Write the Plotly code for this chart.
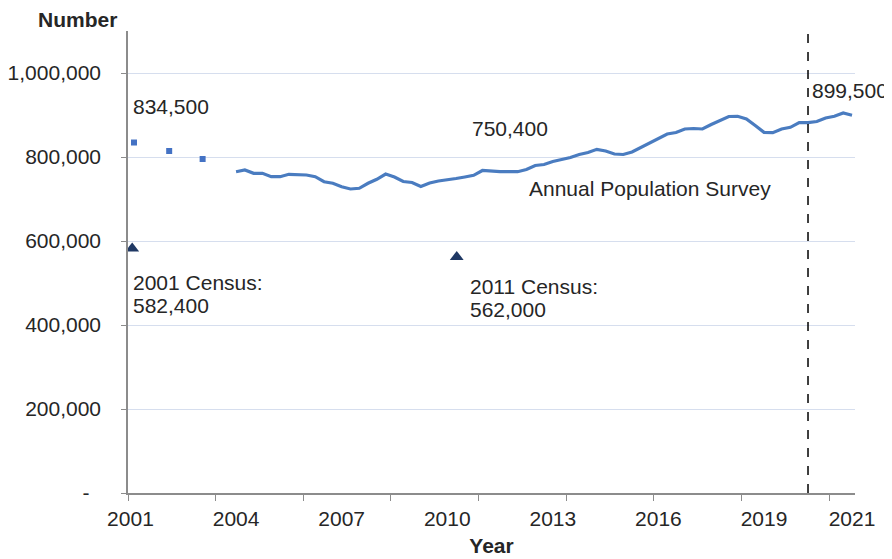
import plotly.graph_objects as go

# ---- data ----
aps_start_year = 2004.0
aps_values = [
    765000, 769000, 761200, 761200, 753100, 753100, 758800, 757100, 757100, 753100,
    741200, 737400, 729300, 723800, 725500, 737400, 746900, 759500, 752400, 741700,
    739300, 729800, 738100, 742900, 745200, 748800, 752400, 756400, 767900, 765500,
    765000, 765000, 765000, 770200, 779800, 782200, 789300, 794000, 798800, 806000,
    810700, 818300, 814300, 807200, 806000, 811900, 822600, 833400, 842900, 854800,
    858400, 866700, 867900, 866700, 877400, 886900, 896400, 896900, 890500, 875000,
    858800, 857900, 866700, 870700, 881700, 881700, 884500, 892900, 896900, 904800,
    899500,
]
aps_years = [aps_start_year + 0.25 * i for i in range(len(aps_values))]

lfs_years = [2001.1, 2002.1, 2003.05]
lfs_values = [834500, 814300, 795200]

census_years = [2001.05, 2010.27]
census_values = [582400, 562000]

break_year = 2020.25

x_tick_vals = [2001, 2004, 2007, 2010, 2013, 2016, 2019, 2021.5]
x_tick_text = ["2001", "2004", "2007", "2010", "2013", "2016", "2019", "2021"]
x_minor_ticks = [2000.93 + 2.49 * k for k in range(9)]

y_tick_vals = [0, 200000, 400000, 600000, 800000, 1000000]
y_tick_text = ["-\u00a0\u00a0", "200,000", "400,000", "600,000", "800,000", "1,000,000"]

FONT = "Liberation Sans, Arial, sans-serif"
LINE_COL = "#4A7CC0"

fig = go.Figure()

fig.add_trace(go.Scatter(
    x=aps_years, y=aps_values, mode="lines",
    line=dict(color=LINE_COL, width=3.2), hoverinfo="skip", showlegend=False,
))
fig.add_trace(go.Scatter(
    x=lfs_years, y=lfs_values, mode="markers",
    marker=dict(symbol="square", size=6, color="#4472C4"), showlegend=False,
))
fig.add_trace(go.Scatter(
    x=census_years, y=census_values, mode="markers",
    marker=dict(symbol="triangle-up", size=12, color="#1F3864"), showlegend=False,
))

# dashed break line
fig.add_shape(type="line", xref="x", yref="paper", x0=break_year, x1=break_year,
              y0=0, y1=0.995, line=dict(color="black", width=1.5, dash="dash"))

def ann(text, x, y, xanchor="left", xref="x", yref="y", bold=False):
    fig.add_annotation(text=("<b>%s</b>" % text) if bold else text, x=x, y=y,
                       xref=xref, yref=yref, xanchor=xanchor, yanchor="middle",
                       showarrow=False, font=dict(family=FONT, size=21, color="#262626"))

ann("834,500", 2001.02, 921400)
ann("750,400", 2010.65, 869000)
ann("899,500", 2020.3, 959500)
ann("Annual Population Survey", 2012.27, 726200)
ann("2001 Census:", 2001.02, 501200)
ann("582,400", 2001.02, 446400)
ann("2011 Census:", 2010.58, 491700)
ann("562,000", 2010.58, 436900)
ann("(a)", break_year, 1131000, xanchor="center")
ann("Number", -0.07, 1.024, xanchor="center", xref="paper", yref="paper", bold=True)

# page body has an 8px margin, so the figure is drawn 8px smaller
fig.update_layout(
    width=884, height=551,
    margin=dict(l=120, r=37, t=23, b=66),
    paper_bgcolor="white", plot_bgcolor="white",
    font=dict(family=FONT, size=21, color="#262626"),
    xaxis=dict(
        range=[2000.93, 2021.585], automargin=False,
        tickvals=x_tick_vals, ticktext=x_tick_text,
        ticks="", showgrid=False, zeroline=False,
        showline=True, linecolor="#8C8C8C", linewidth=1.5,
        ticklabelstandoff=6,
        minor=dict(tickvals=x_minor_ticks, ticks="outside", ticklen=6,
                   tickcolor="#8C8C8C", showgrid=False),
        title=dict(text="<b>Year</b>", font=dict(size=21, family=FONT), standoff=9),
    ),
    yaxis=dict(
        range=[0, 1100000], automargin=False,
        tickvals=y_tick_vals, ticktext=y_tick_text,
        ticks="outside", ticklen=5, tickcolor="#8C8C8C",
        showgrid=True, gridcolor="#D6DEEE", gridwidth=1,
        zeroline=False, showline=True, linecolor="#8C8C8C", linewidth=1.5,
        ticklabelstandoff=16,
    ),
)

fig.write_html("out.html")
